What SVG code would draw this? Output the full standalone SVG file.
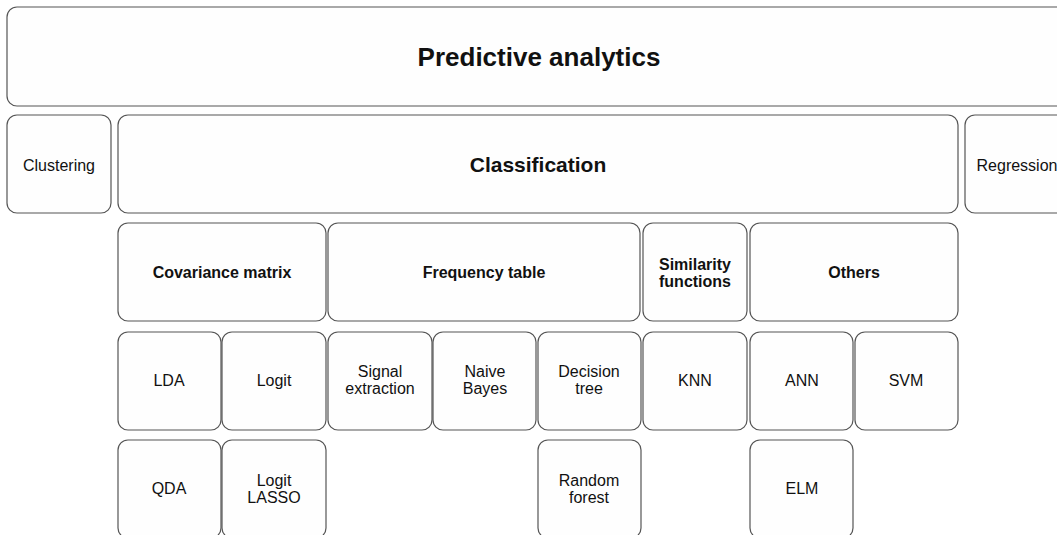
<svg xmlns="http://www.w3.org/2000/svg" width="1057" height="535" viewBox="0 0 1057 535">
<style>
.box{fill:#fefefe;stroke:#555;stroke-width:1.2}
text{font-family:"Liberation Sans",Arial,sans-serif;fill:#111;text-anchor:middle}
.b{font-weight:bold}
.t1{font-size:26px}
.t2{font-size:21px}
.t3{font-size:16px}
.t4{font-size:16px}
</style>
<rect width="1057" height="535" fill="#fff"/>
<g id="predictive-analytics"><rect class="box" x="7" y="7" width="1063" height="99" rx="10"/><text class="b t1" x="539" y="66">Predictive analytics</text></g>
<g id="clustering"><rect class="box" x="7" y="115" width="104" height="98" rx="10"/><text class="t4" x="59" y="171">Clustering</text></g>
<g id="classification"><rect class="box" x="118" y="115" width="840" height="98" rx="10"/><text class="b t2" x="538" y="171.5">Classification</text></g>
<g id="regression"><rect class="box" x="965" y="115" width="104" height="98" rx="10"/><text class="t4" x="1017" y="171">Regression</text></g>
<g id="covariance-matrix"><rect class="box" x="118" y="223" width="208" height="98" rx="10"/><text class="b t3" x="222" y="278">Covariance matrix</text></g>
<g id="frequency-table"><rect class="box" x="328" y="223" width="312" height="98" rx="10"/><text class="b t3" x="484" y="278">Frequency table</text></g>
<g id="similarity-functions"><rect class="box" x="643" y="223" width="104" height="98" rx="10"/><text class="b t3" x="695" y="269.5">Similarity</text><text class="b t3" x="695" y="287">functions</text></g>
<g id="others"><rect class="box" x="750" y="223" width="208" height="98" rx="10"/><text class="b t3" x="854" y="278">Others</text></g>
<g id="lda"><rect class="box" x="118" y="332" width="103" height="98" rx="10"/><text class="t4" x="169" y="386">LDA</text></g>
<g id="logit"><rect class="box" x="222" y="332" width="104" height="98" rx="10"/><text class="t4" x="274" y="386">Logit</text></g>
<g id="signal-extraction"><rect class="box" x="328" y="332" width="104" height="98" rx="10"/><text class="t4" x="380" y="377">Signal</text><text class="t4" x="380" y="394">extraction</text></g>
<g id="naive-bayes"><rect class="box" x="433" y="332" width="103" height="98" rx="10"/><text class="t4" x="485" y="377">Naive</text><text class="t4" x="485" y="394">Bayes</text></g>
<g id="decision-tree"><rect class="box" x="538" y="332" width="103" height="98" rx="10"/><text class="t4" x="589" y="377">Decision</text><text class="t4" x="589" y="394">tree</text></g>
<g id="knn"><rect class="box" x="643" y="332" width="104" height="98" rx="10"/><text class="t4" x="695" y="386">KNN</text></g>
<g id="ann"><rect class="box" x="750" y="332" width="103" height="98" rx="10"/><text class="t4" x="802" y="386">ANN</text></g>
<g id="svm"><rect class="box" x="855" y="332" width="103" height="98" rx="10"/><text class="t4" x="906" y="386">SVM</text></g>
<g id="qda"><rect class="box" x="118" y="440" width="103" height="98" rx="10"/><text class="t4" x="169" y="494">QDA</text></g>
<g id="logit-lasso"><rect class="box" x="222" y="440" width="104" height="98" rx="10"/><text class="t4" x="274" y="486">Logit</text><text class="t4" x="274" y="502.5">LASSO</text></g>
<g id="random-forest"><rect class="box" x="538" y="440" width="103" height="98" rx="10"/><text class="t4" x="589" y="486">Random</text><text class="t4" x="589" y="502.5">forest</text></g>
<g id="elm"><rect class="box" x="750" y="440" width="103" height="98" rx="10"/><text class="t4" x="802" y="494">ELM</text></g>
<g id="connectors"></g>
</svg>
